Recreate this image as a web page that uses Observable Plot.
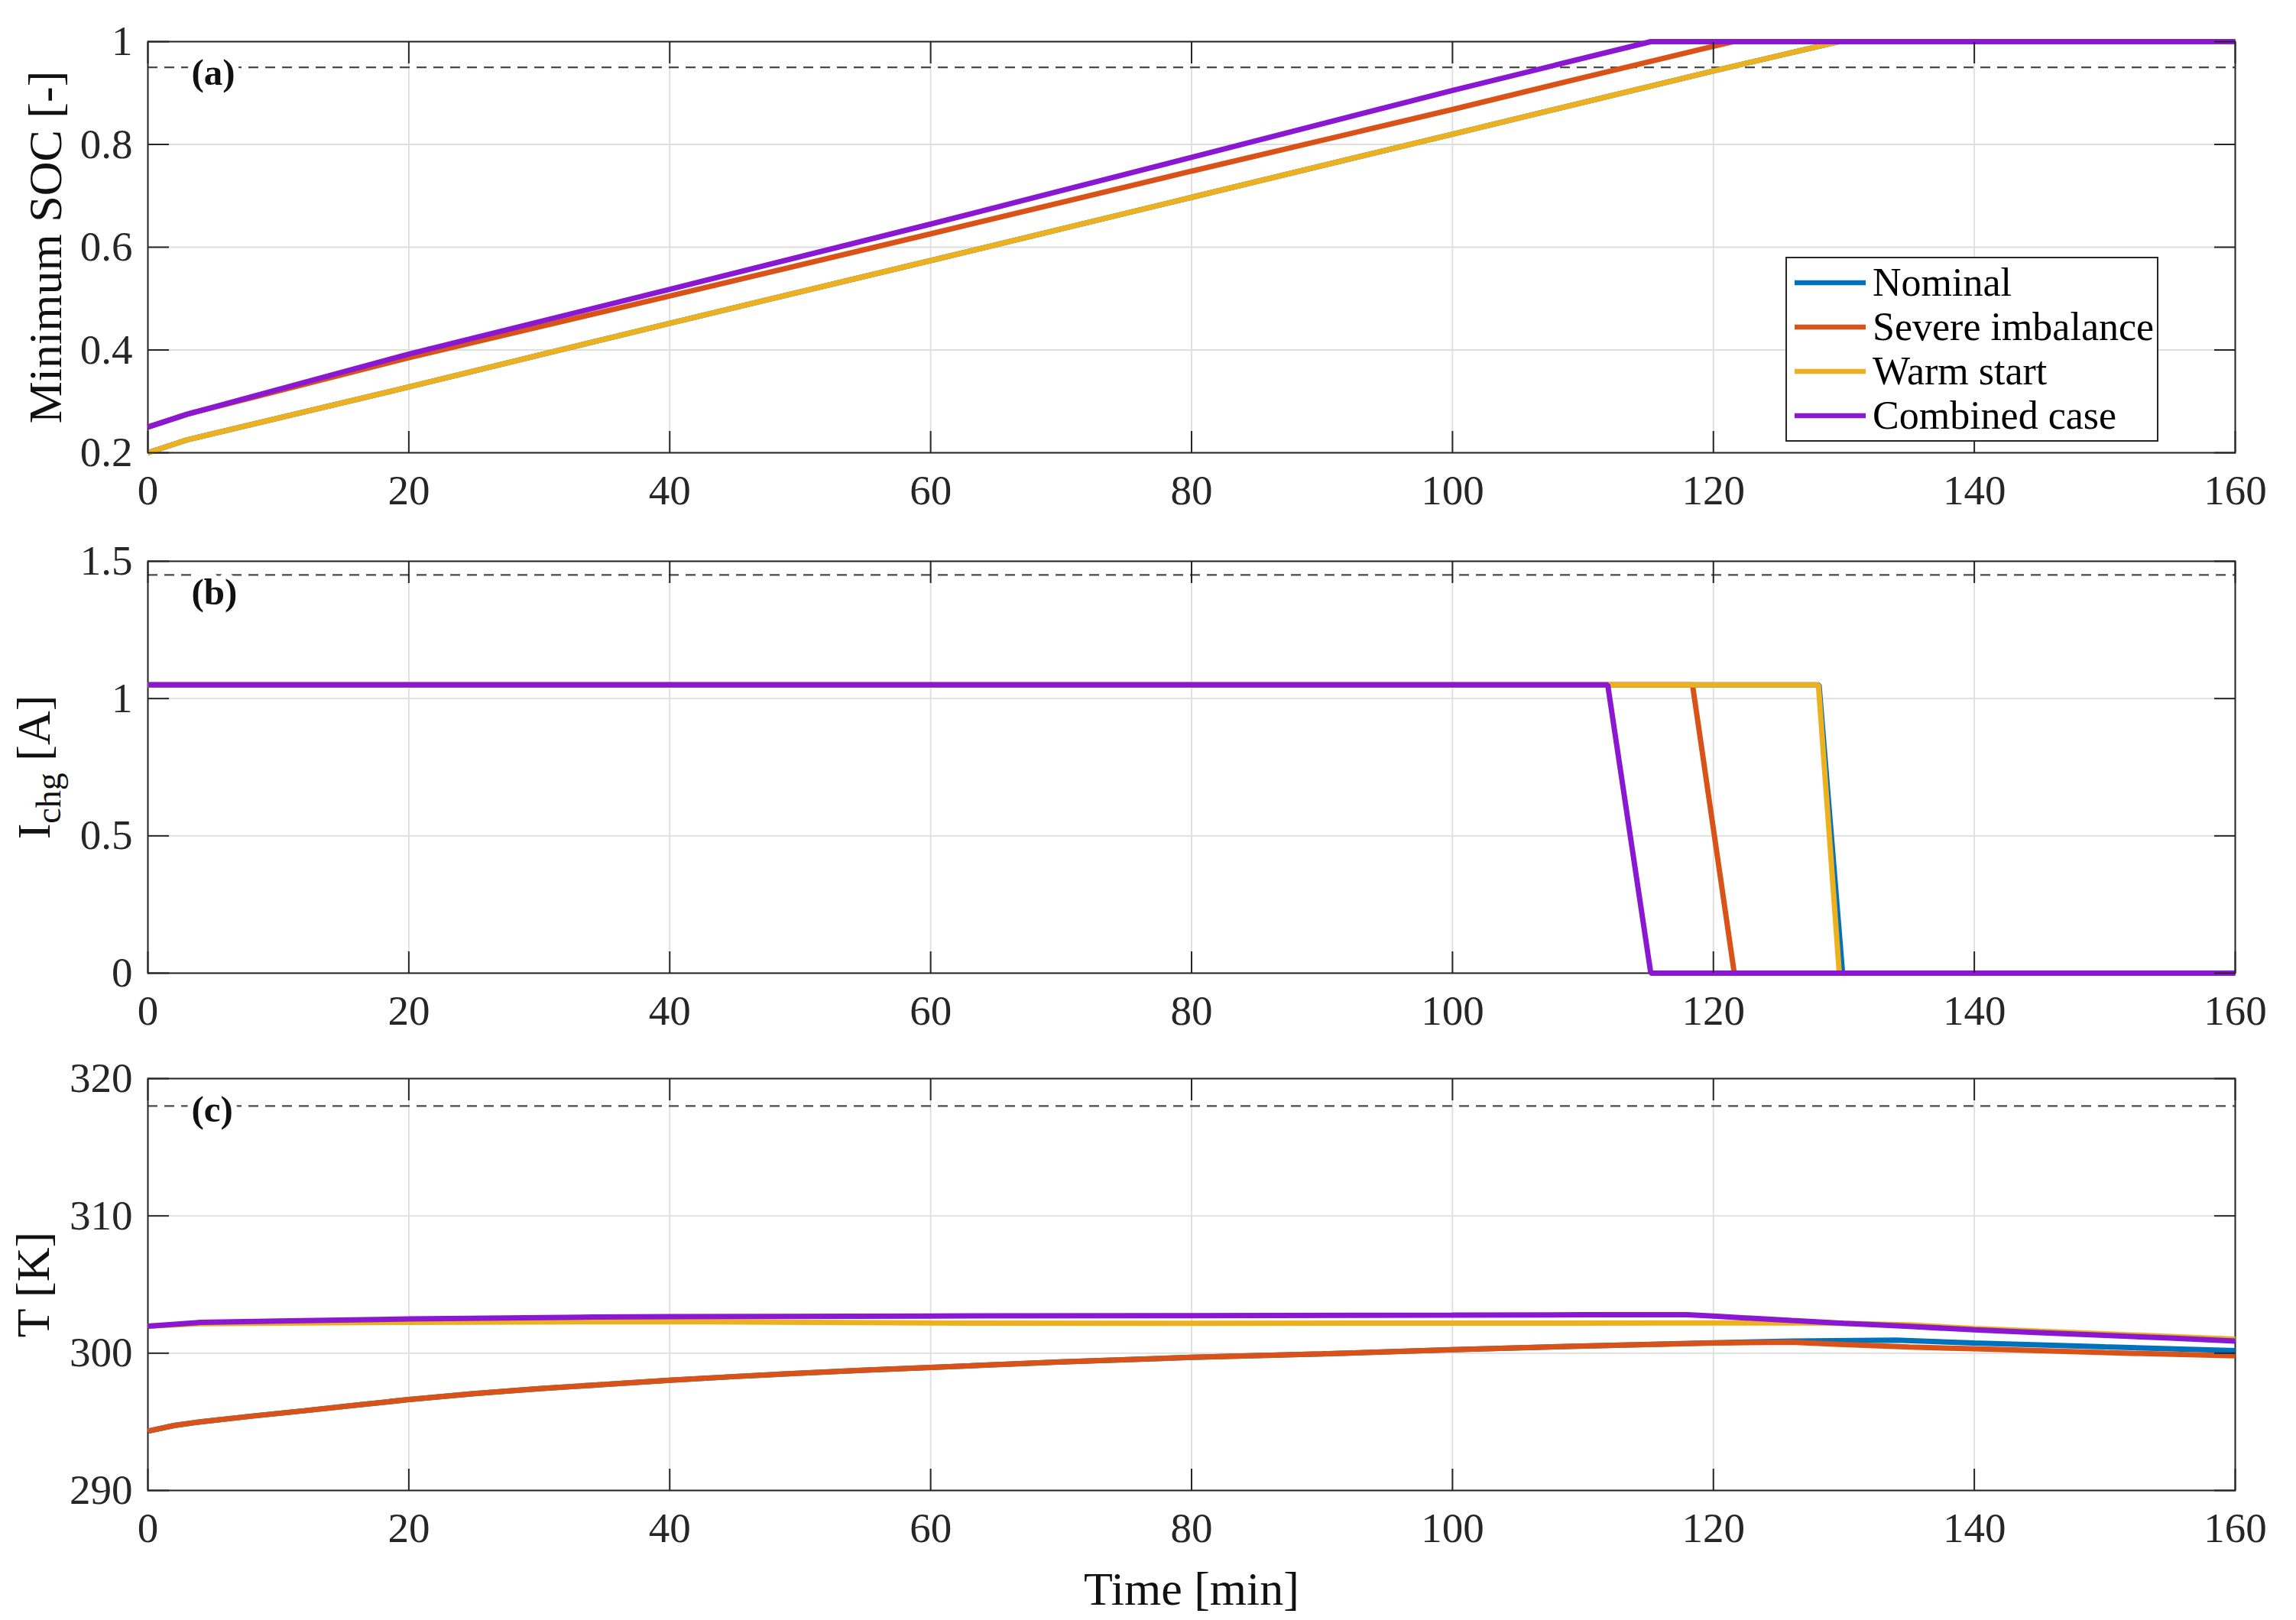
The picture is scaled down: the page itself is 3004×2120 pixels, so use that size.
<!DOCTYPE html>
<html>
<head>
<meta charset="utf-8">
<script src="https://cdn.jsdelivr.net/npm/d3@7"></script>
<script src="https://cdn.jsdelivr.net/npm/@observablehq/plot@0.6"></script>
<style>
html, body { margin: 0; padding: 0; background: #fff; overflow: hidden; }
#chart { width: 3004px; height: 2120px; position: relative; }
#chart svg { display: block; }
</style>
</head>
<body>
<div id="chart"></div>
<script>
// ---------- series ----------
const seriesNames  = ["Nominal", "Severe imbalance", "Warm start", "Combined case"];
const seriesColors = ["#0072BD", "#D95319", "#EDB120", "#8A17D2"];

// ---------- shared x axis ----------
const timeTicks = [0, 20, 40, 60, 80, 100, 120, 140, 160];

// ---------- (a) Minimum SOC [-] : [time min, SOC] ----------
const socNominal  = [[0,0.2],[3,0.225],[20,0.328],[40,0.452],[60,0.574],[80,0.697],[100,0.82],[120,0.943],[129.6,1.0],[160,1.0]];
const socSevere   = [[0,0.25],[3,0.275],[20,0.385],[40,0.505],[60,0.626],[80,0.748],[100,0.868],[110,0.93],[119.5,0.988],[121.5,1.0],[160,1.0]];
const socWarm     = [[0,0.2],[3,0.225],[20,0.328],[40,0.452],[60,0.574],[80,0.697],[100,0.82],[120,0.943],[129.6,1.0],[160,1.0]];
const socCombined = [[0,0.25],[3,0.275],[20,0.392],[40,0.518],[60,0.645],[80,0.775],[100,0.905],[115.2,1.0],[160,1.0]];
const socTicks = [0.2, 0.4, 0.6, 0.8, 1];
const socLimit = 0.95;

// ---------- (b) Charging current [A] ----------
const curNominal  = [[0,1.05],[128.1,1.05],[129.9,0],[160,0]];
const curSevere   = [[0,1.05],[118.4,1.05],[121.6,0],[160,0]];
const curWarm     = [[0,1.05],[128.05,1.05],[129.65,0],[160,0]];
const curCombined = [[0,1.05],[111.9,1.05],[115.2,0],[160,0]];
const curTicks = [0, 0.5, 1, 1.5];
const curLimit = 1.45;

// ---------- (c) Temperature [K] ----------
const tmpNominal  = [[0,294.32],[2,294.73],[4,295.0],[8,295.42],[12,295.81],[16,296.22],[20,296.62],[25,297.05],[30,297.42],[35,297.72],[40,298.03],[45,298.3],[50,298.55],[55,298.76],[60,298.96],[70,299.36],[80,299.7],[90,299.95],[100,300.25],[110,300.52],[120,300.76],[126,300.88],[134,300.95],[140,300.74],[150,300.46],[160,300.19]];
const tmpSevere   = [[0,294.32],[2,294.73],[4,295.0],[8,295.42],[12,295.81],[16,296.22],[20,296.62],[25,297.05],[30,297.42],[35,297.72],[40,298.03],[45,298.3],[50,298.55],[55,298.76],[60,298.96],[70,299.36],[80,299.7],[90,299.95],[100,300.25],[110,300.52],[120,300.74],[126,300.8],[130,300.63],[135,300.45],[140,300.32],[150,300.04],[160,299.81]];
const tmpWarm     = [[0,301.97],[4,302.15],[20,302.25],[40,302.3],[60,302.2],[80,302.17],[100,302.19],[120,302.2],[127,302.2],[130,302.18],[135,302.06],[140,301.8],[145,301.6],[150,301.41],[155,301.22],[160,301.02]];
const tmpCombined = [[0,301.97],[4,302.24],[10,302.34],[20,302.49],[34,302.63],[40,302.66],[60,302.71],[80,302.73],[100,302.77],[110,302.8],[118,302.8],[120,302.7],[126,302.38],[130,302.17],[135,301.95],[140,301.7],[145,301.5],[150,301.3],[155,301.1],[160,300.88]];
const tmpTicks = [290, 300, 310, 320];
const tmpLimit = 318;

// ---------- helpers ----------
function toRows(lists) {
  return lists.flatMap((pts, i) => pts.map(([t, v]) => ({series: seriesNames[i], t, v})));
}

const FONT = '"Liberation Serif", "Times New Roman", Times, serif';
const INK = "#262626";

function panel({rows, yDomain, yTicks, limit, tag, label, labelDx, height, marginTop, marginBottom, extra = []}) {
  return Plot.plot({
    width: 3004,
    height,
    marginLeft: 193,
    marginRight: 80,
    marginTop,
    marginBottom,
    style: {fontFamily: FONT, fontSize: "55px", color: INK, background: "transparent", overflow: "visible"},
    x: {domain: [0, 160]},
    y: {domain: yDomain},
    color: {domain: seriesNames, range: seriesColors},
    marks: [
      Plot.gridX(timeTicks, {stroke: "#dedede", strokeOpacity: 1, strokeWidth: 1.8}),
      Plot.gridY(yTicks, {stroke: "#dedede", strokeOpacity: 1, strokeWidth: 1.8}),
      Plot.ruleY([limit], {stroke: "#4a4a4a", strokeWidth: 2.2, strokeDasharray: "13,9"}),
      Plot.frame({stroke: INK, strokeWidth: 2}),
      Plot.line(rows, {x: "t", y: "v", z: "series", stroke: "series", strokeWidth: 7, strokeLinecap: "butt", strokeLinejoin: "miter"}),
      Plot.axisX(timeTicks, {anchor: "bottom", tickSize: -28, fill: "none", stroke: INK, strokeWidth: 2, label: null}),
      Plot.axisX(timeTicks, {anchor: "top", tickSize: -28, fill: "none", stroke: INK, strokeWidth: 2, label: null}),
      Plot.axisY(yTicks, {anchor: "left", tickSize: -28, fill: "none", stroke: INK, strokeWidth: 2, label: null}),
      Plot.axisY(yTicks, {anchor: "right", tickSize: -28, fill: "none", stroke: INK, strokeWidth: 2, label: null}),
      Plot.axisX(timeTicks, {anchor: "bottom", tickSize: 0, tickPadding: 28, fontSize: 55, fill: INK, label: null, tickFormat: d => String(d)}),
      Plot.axisY(yTicks, {anchor: "left", tickSize: 0, tickPadding: 20, fontSize: 55, fill: INK, label: null, tickFormat: d => String(d)}),
      Plot.text([tag], {frameAnchor: "top-left", dx: 57, dy: 41, textAnchor: "start", lineAnchor: "middle",
        fontWeight: "bold", fontSize: 49, fill: "#111", stroke: "white", strokeWidth: 16}),
      Plot.text([label], {frameAnchor: "left", dx: labelDx, rotate: -90, textAnchor: "middle", lineAnchor: "middle",
        fontSize: 62, fill: "#111"}),
      ...extra
    ]
  });
}

const chart = document.getElementById("chart");

const svgA = panel({
  rows: toRows([socNominal, socSevere, socWarm, socCombined]),
  yDomain: [0.2, 1], yTicks: socTicks, limit: socLimit, tag: "(a)",
  label: "Minimum SOC [-]", labelDx: -133,
  height: 663, marginTop: 54, marginBottom: 71
});
const svgB = panel({
  rows: toRows([curNominal, curSevere, curWarm, curCombined]),
  yDomain: [0, 1.5], yTicks: curTicks, limit: curLimit, tag: "(b)",
  label: "Ichg [A]", labelDx: -148,
  height: 679, marginTop: 71, marginBottom: 69
});
const svgC = panel({
  rows: toRows([tmpNominal, tmpSevere, tmpWarm, tmpCombined]),
  yDomain: [290, 320], yTicks: tmpTicks, limit: tmpLimit, tag: "(c)",
  label: "T [K]", labelDx: -149,
  height: 778, marginTop: 69, marginBottom: 170,
  extra: [Plot.text(["Time [min]"], {frameAnchor: "bottom", dy: 130, textAnchor: "middle", lineAnchor: "middle", fontSize: 62, fill: "#111"})]
});

chart.append(svgA, svgB, svgC);

// subscript for I_chg [A]
d3.select(svgB).selectAll("text")
  .filter(function () { return this.textContent === "Ichg [A]"; })
  .each(function () {
    const t = d3.select(this);
    t.text(null);
    t.append("tspan").text("I");
    t.append("tspan").attr("font-size", 46).attr("dy", 14).text("chg");
    t.append("tspan").attr("dy", -14).text(" [A]");
  });

// legend inside panel (a)
const lg = d3.select(svgA).append("g")
  .attr("font-family", FONT).attr("font-size", 52).attr("text-anchor", "start");
lg.append("rect").attr("x", 2337).attr("y", 337).attr("width", 486).attr("height", 240)
  .attr("fill", "white").attr("stroke", INK).attr("stroke-width", 2);
seriesNames.forEach((name, i) => {
  const cy = 370 + i * 58;
  lg.append("line").attr("x1", 2348).attr("x2", 2441).attr("y1", cy).attr("y2", cy)
    .attr("stroke", seriesColors[i]).attr("stroke-width", 6.5);
  lg.append("text").attr("x", 2450).attr("y", cy + 17).attr("fill", "#000")
    .attr("text-anchor", "start").text(name);
});
</script>
</body>
</html>
